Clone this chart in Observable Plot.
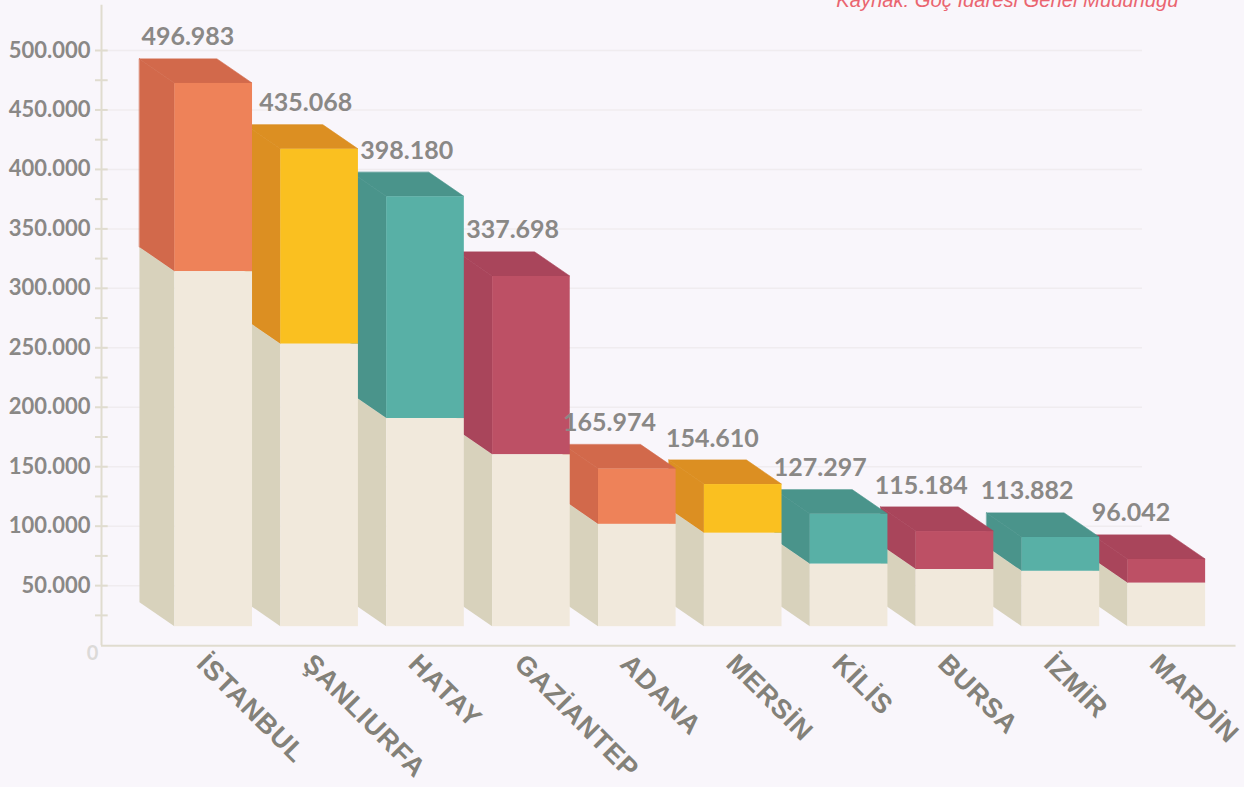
<!DOCTYPE html>
<html><head><meta charset="utf-8">
<script src="https://cdn.jsdelivr.net/npm/d3@7"></script>
<script src="https://cdn.jsdelivr.net/npm/@observablehq/plot@0.6"></script>
<style>html,body{margin:0;padding:0;background:#f9f6fb;overflow:hidden}svg{display:block}.cat text{letter-spacing:.7px}</style>
</head><body><div id="chart"></div>
<script>
const cities = ["İSTANBUL","ŞANLIURFA","HATAY","GAZİANTEP","ADANA","MERSİN","KİLİS","BURSA","İZMİR","MARDİN"];
const labelValues = ["496.983","435.068","398.180","337.698","165.974","154.610","127.297","115.184","113.882","96.042"];
const drawnTops = [472300,416900,377000,310000,148000,135000,110000,95500,90500,72000];
const creamTops = [314000,253000,190500,160000,101500,94000,68000,63500,62000,52000];
const topColors = ["#ee8259","#fac020","#58b0a6","#bd5065","#ee8259","#fac020","#58b0a6","#bd5065","#58b0a6","#bd5065"];
const sideColors = ["#d2694b","#dc8f22","#4a948b","#a9455b","#d2694b","#dc8f22","#4a948b","#a9455b","#4a948b","#a9455b"];
const labelNudge = [13,25,20,20,11,8,10,5,5,3];
const majorTicks = [50000,100000,150000,200000,250000,300000,350000,400000,450000,500000];
const minorTicks = d3.range(25000,500001,25000);

const W = 0.733, D = 0.33, DV = 20200, BASE = 15500;
const cream = "#f1e9dc", creamSide = "#d8d2bc", grey = "#8a8886", line = "#e0dccf";
const fmt = d => d3.format(",")(d).replace(/,/g,".");
const axisX = -0.693;

const bars = d3.range(cities.length).reverse().flatMap(i => {
  const t = drawnTops[i], c = creamTops[i];
  const s = sideColors[i];
  return [
    Plot.area([{y:t+DV,a:i-D,b:i-D+W},{y:t,a:i,b:i+W}],{x1:"a",x2:"b",y1:"y",fill:s,stroke:s,strokeWidth:0.6}),
    Plot.area([{x:i-D,a:c+DV,b:t+DV},{x:i,a:c,b:t}],{x1:"x",y1:"a",y2:"b",fill:s,stroke:s,strokeWidth:0.6}),
    Plot.area([{x:i-D,a:BASE+DV,b:c+DV},{x:i,a:BASE,b:c}],{x1:"x",y1:"a",y2:"b",fill:creamSide}),
    Plot.rect([{}],{x1:i,x2:i+W,y1:c,y2:t,fill:topColors[i],inset:0}),
    Plot.rect([{}],{x1:i,x2:i+W,y1:BASE,y2:c,fill:cream,inset:0})
  ];
});
const valueLabels = labelValues.map((s,i) =>
  Plot.text([s],{x:i,y:drawnTops[i]+DV,text:d=>d,dx:labelNudge[i],dy:-22,fill:grey,fontSize:25,fontWeight:700,fontFamily:"Lato",textAnchor:"middle"}));

const chart = Plot.plot({
  width:1244,height:787,margin:0,marginLeft:101,
  style:{background:"#f9f6fb",overflow:"hidden"},
  x:{type:"linear",domain:[0,9],range:[174.4,1127.5],axis:null},
  y:{type:"linear",domain:[0,500000],range:[644.6,50],axis:null},
  marks:[
    Plot.ruleY(majorTicks,{x1:axisX,x2:9.137,stroke:"#f0ecef",strokeWidth:1.5}),
    Plot.ruleY(minorTicks,{x1:-0.75,x2:-0.63,stroke:line,strokeWidth:2}),
    Plot.ruleX([axisX],{y1:-500,y2:538000,stroke:line,strokeWidth:2}),
    Plot.ruleY([-500],{x1:axisX,x2:10.02,stroke:line,strokeWidth:2}),
    Plot.axisY(majorTicks,{anchor:"left",tickSize:0,tickPadding:11,tickFormat:fmt,label:null,fill:grey,fontSize:22,fontWeight:700,fontFamily:"Lato"}),
    Plot.text([0],{x:axisX,y:0,text:d=>String(d),dx:-9,dy:8,fill:"#dcdad8",fontSize:20,fontFamily:"Lato",fontWeight:700,textAnchor:"middle"}),
    ...bars,
    ...valueLabels,
    Plot.text(cities,{x:(d,i)=>i+0.25,y:0,text:d=>d,dy:14,rotate:45,textAnchor:"start",fill:"#838179",fontSize:27,fontWeight:700,fontFamily:"Liberation Sans",className:"cat"}),
    Plot.text(["Kaynak: Göç İdaresi Genel Müdürlüğü"],{frameAnchor:"top-right",dx:-66,dy:6,lineAnchor:"bottom",textAnchor:"end",fill:"#ea6570",fontSize:20.2,fontStyle:"italic",fontFamily:"Liberation Sans"})
  ]
});
document.getElementById("chart").append(chart);
</script></body></html>
